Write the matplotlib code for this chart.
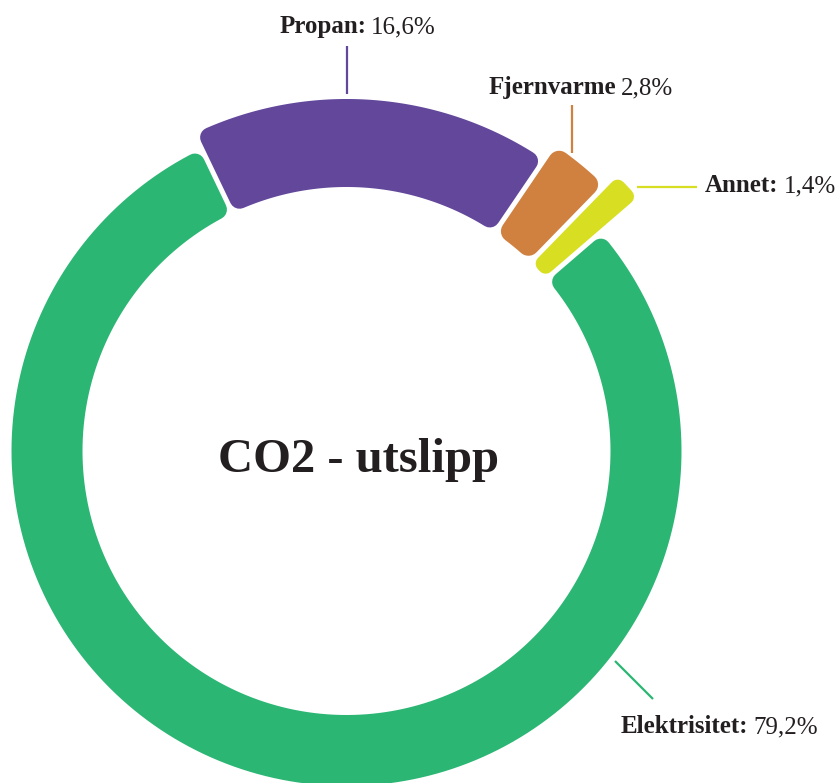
import numpy as np
import matplotlib.pyplot as plt
from matplotlib.patches import Polygon

# ---------------------------------------------------------------------
# Data
# ---------------------------------------------------------------------
names = ["Propan", "Fjernvarme", "Annet", "Elektrisitet"]
label_bold = ["Propan:", "Fjernvarme", "Annet:", "Elektrisitet:"]
shares = [16.6, 2.8, 1.4, 79.2]
share_text = ["16,6%", "2,8%", "1,4%", "79,2%"]
title = "CO2 - utslipp"

# ---------------------------------------------------------------------
# Style / layout
# ---------------------------------------------------------------------
colors = ["#62479b", "#d0803f", "#d8df22", "#2bb673"]
outer_r = [352, 370, 386, 335]
inner_r = 264
corner = [10, 11, 8, 10]
gap = 5
start_deg = -25.6          # clockwise from 12 o'clock
cx, cy = 346.5, 451
text_color = "#231f20"
font = ["Liberation Serif", "DejaVu Serif"]
label_size = 18

plt.rcParams["font.family"] = font

fig = plt.figure(figsize=(8.4, 7.83), dpi=100)
ax = fig.add_axes([0, 0, 1, 1])
ax.set_xlim(0, 840)
ax.set_ylim(783, 0)
ax.axis("off")


def xy(r, a):
    a = np.radians(a)
    return cx + r * np.sin(a), cy - r * np.cos(a)


def segment(a0, a1, r0, r1, c, color):
    # inner shape offset by c, then stroked with round joins -> rounded corners
    e = gap / 2 + c
    ro, ri = r1 - c, r0 + c
    do = np.degrees(np.arcsin(e / ro))
    di = np.degrees(np.arcsin(e / ri))
    ao = np.linspace(a0 + do, a1 - do, 200)
    ai = np.linspace(a1 - di, a0 + di, 200)
    pts = [xy(ro, a) for a in ao] + [xy(ri, a) for a in ai]
    lw = 2 * c * 72 / fig.dpi
    ax.add_patch(Polygon(pts, closed=True, facecolor=color, edgecolor=color,
                         linewidth=lw, joinstyle="round"))


a = start_deg
for i, s in enumerate(shares):
    span = s / 100 * 360
    segment(a, a + span, inner_r, outer_r[i], corner[i], colors[i])
    a += span

# leader lines
leaders = [((347, 46), (347, 94)),
           ((572, 105), (572, 153)),
           ((637, 187), (697, 187)),
           ((615, 661), (653, 699))]
for (p0, p1), col in zip(leaders, colors):
    ax.plot([p0[0], p1[0]], [p0[1], p1[1]], color=col, linewidth=1.6,
            solid_capstyle="butt")

# labels: bold name + regular value
label_pos = [(357.5, 33, "center"), (580.5, 94, "center"),
             (705, 192, "left"), (621, 733, "left")]
space = 5

fig.canvas.draw()
renderer = fig.canvas.get_renderer()
for i in range(len(names)):
    x, y, ha = label_pos[i]
    t1 = ax.text(0, y, label_bold[i], fontsize=label_size, fontweight="bold",
                 color=text_color, va="baseline", ha="left")
    t2 = ax.text(0, y, share_text[i], fontsize=label_size,
                 color=text_color, va="baseline", ha="left")
    w1 = t1.get_window_extent(renderer).width
    w2 = t2.get_window_extent(renderer).width
    total = w1 + space + w2
    x0 = x - total / 2 if ha == "center" else x
    t1.set_x(x0)
    t2.set_x(x0 + w1 + space)

ax.text(358, 472, title, fontsize=35, fontweight="bold", color=text_color,
        ha="center", va="baseline")

fig.savefig("out.png", dpi=100, facecolor="white")
